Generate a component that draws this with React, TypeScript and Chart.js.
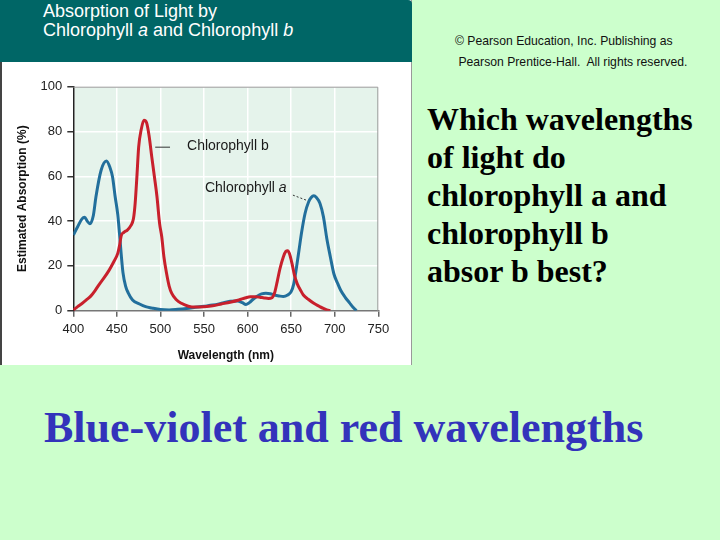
import { useEffect, useRef } from "react"
import { Chart, registerables } from "chart.js"

Chart.register(...registerables)

// Chlorophyll a (blue curve)
const chlAWavelengths = [400, 405, 410, 413, 416, 419, 423, 426, 432, 438, 442, 445, 448, 451, 453, 455, 457, 460, 463, 468, 476, 483, 490, 500, 510, 520, 530, 540, 550, 560, 570, 580, 588, 594, 598, 602, 606, 611, 616, 621, 626, 631, 636, 641, 646, 650, 653, 656, 659, 662, 666, 670, 673, 676, 679, 683, 687, 691, 695, 699, 703, 707, 712, 717, 721, 725]
const chlAValues = [33.8, 37.5, 41, 41.7, 40, 38.8, 42.5, 50.9, 62.8, 66.8, 64, 59.8, 51, 43, 34.5, 25, 17, 11, 8, 4.8, 3, 1.8, 1.2, 0.5, 0.3, 0.6, 1, 1.5, 2, 2.5, 3.3, 4.2, 4.3, 3.6, 2.8, 3.6, 5, 6.5, 7.5, 7.8, 7.6, 7, 6.6, 6.3, 7, 8.5, 12, 19, 27, 35, 43.5, 48.5, 50.5, 51.3, 50.5, 48, 42, 32, 24, 16.5, 12.5, 9, 6, 3.5, 1.5, 0]

// Chlorophyll b (red curve)
const chlBWavelengths = [400, 405, 410, 415, 420, 425, 430, 435, 441, 446, 451, 453, 455, 458, 462, 466, 469, 471, 473, 475, 478, 481, 484, 487, 490, 493, 496, 499, 501.5, 504, 507, 510, 513, 518, 524, 532, 540, 550, 560, 570, 580, 590, 598, 603, 609, 614, 619, 624, 628, 631, 634, 637, 641, 644, 646, 648, 651, 654, 657, 661, 664, 670, 676, 682, 687, 691, 695]
const chlBValues = [0.3, 1.8, 3.2, 4.8, 6.5, 9, 11.9, 14.5, 18, 21.5, 25.6, 29, 33.5, 35, 36, 38, 41, 48, 60, 73, 81, 85, 84, 78, 68.8, 60, 51, 39, 33, 24, 16.7, 11, 7.7, 5, 3.3, 2, 1.6, 1.8, 2.2, 3, 3.8, 4.8, 5.8, 6.2, 6.2, 6, 5.7, 5.5, 5.8, 8, 13, 18.5, 24, 26.5, 26.8, 25.5, 21, 15.5, 12, 9, 7, 5, 3.3, 2, 1, 0.4, 0]

const xTicks = [400, 450, 500, 550, 600, 650, 700, 750]
const yTicks = [0, 20, 40, 60, 80, 100]

const plotDecor = {
  id: "plotDecor",
  beforeDraw(chart: any) {
    const { ctx, chartArea } = chart
    ctx.save()
    ctx.fillStyle = "#e5f3eb"
    ctx.fillRect(chartArea.left, chartArea.top, chartArea.right - chartArea.left, chartArea.bottom - chartArea.top)
    ctx.restore()
  },
  afterDatasetsDraw(chart: any) {
    const { ctx, chartArea, scales } = chart
    const x = scales.x
    const y = scales.y
    ctx.save()
    // top / right frame
    ctx.strokeStyle = "#9a9a9a"
    ctx.lineWidth = 1
    ctx.beginPath()
    ctx.moveTo(chartArea.left, chartArea.top + 0.5)
    ctx.lineTo(chartArea.right - 0.5, chartArea.top + 0.5)
    ctx.lineTo(chartArea.right - 0.5, chartArea.bottom)
    ctx.stroke()

    // labels
    ctx.fillStyle = "#1a1a1a"
    ctx.font = "14px 'Liberation Sans', Arial, sans-serif"
    ctx.textBaseline = "middle"
    ctx.fillText("Chlorophyll b", x.getPixelForValue(530.5), y.getPixelForValue(73.5))
    const ax = x.getPixelForValue(551)
    const ay = y.getPixelForValue(54.8)
    ctx.fillText("Chlorophyll ", ax, ay)
    const w = ctx.measureText("Chlorophyll ").width
    ctx.font = "italic 14px 'Liberation Sans', Arial, sans-serif"
    ctx.fillText("a", ax + w, ay)

    // leader lines
    ctx.strokeStyle = "#333"
    ctx.lineWidth = 1
    ctx.beginPath()
    ctx.moveTo(x.getPixelForValue(494), y.getPixelForValue(73))
    ctx.lineTo(x.getPixelForValue(511), y.getPixelForValue(73))
    ctx.stroke()
    ctx.setLineDash([2, 2])
    ctx.beginPath()
    ctx.moveTo(x.getPixelForValue(652), y.getPixelForValue(51.6))
    ctx.lineTo(x.getPixelForValue(669), y.getPixelForValue(49.1))
    ctx.stroke()
    ctx.restore()
  },
}

function AbsorptionChart() {
  const chartRef = useRef<HTMLCanvasElement>(null)
  const chartInstance = useRef<Chart | null>(null)

  useEffect(() => {
    if (!chartRef.current) return
    const ctx = chartRef.current.getContext("2d")
    if (!ctx) return
    if (chartInstance.current) chartInstance.current.destroy()

    const tickFont = { family: "'Liberation Sans', Arial, sans-serif", size: 13 }
    const titleFont = { family: "'Liberation Sans', Arial, sans-serif", size: 12, weight: "bold" as const }

    chartInstance.current = new Chart(ctx, {
      type: "line",
      data: {
        datasets: [
          {
            label: "Chlorophyll b",
            data: chlBWavelengths.map((w, i) => ({ x: w, y: chlBValues[i] })),
            borderColor: "#c8202c",
            borderWidth: 3,
            pointRadius: 0,
            cubicInterpolationMode: "monotone",
            fill: false,
          },
          {
            label: "Chlorophyll a",
            data: chlAWavelengths.map((w, i) => ({ x: w, y: chlAValues[i] })),
            borderColor: "#226f9c",
            borderWidth: 3,
            pointRadius: 0,
            cubicInterpolationMode: "monotone",
            fill: false,
          },
        ],
      },
      options: {
        animation: false,
        responsive: true,
        maintainAspectRatio: false,
        layout: { padding: { top: 24.7, right: 33.7, left: 0, bottom: 0 } },
        plugins: {
          legend: { display: false },
          tooltip: { enabled: false },
        },
        scales: {
          x: {
            type: "linear",
            min: 400,
            max: 750,
            afterBuildTicks: (scale: any) => {
              scale.ticks = xTicks.map((v) => ({ value: v }))
            },
            afterFit: (scale: any) => {
              scale.height = 54.3
            },
            ticks: { font: tickFont, color: "#222", padding: 5 },
            grid: { color: "#ffffff", lineWidth: 1.5, tickColor: "#666", tickLength: 6 },
            border: { color: "#777", width: 1.5 },
            title: { display: true, text: "Wavelength (nm)", font: titleFont, color: "#111", padding: { top: 0, bottom: 2 } },
          },
          y: {
            min: 0,
            max: 100,
            afterBuildTicks: (scale: any) => {
              scale.ticks = yTicks.map((v) => ({ value: v }))
            },
            afterFit: (scale: any) => {
              scale.width = 73.3
            },
            ticks: { font: tickFont, color: "#222", padding: 5 },
            grid: { color: "#ffffff", lineWidth: 1.5, tickColor: "#333", tickLength: 6 },
            border: { color: "#222", width: 1.5 },
            title: { display: true, text: "Estimated Absorption (%)", font: titleFont, color: "#111", padding: { top: 15, bottom: 0 } },
          },
        },
      },
      plugins: [plotDecor],
    })

    return () => {
      if (chartInstance.current) {
        chartInstance.current.destroy()
        chartInstance.current = null
      }
    }
  }, [])

  return <canvas ref={chartRef} />
}

export default function App() {
  const sans = "'Liberation Sans', Arial, sans-serif"
  const serif = "'Liberation Serif', 'Times New Roman', serif"
  return (
    <div style={{ position: "absolute", left: 0, top: 0, width: 720, height: 540, background: "#ccffcc", overflow: "hidden" }}>
      <div style={{ position: "absolute", left: 0, top: 0, width: 412, height: 365, background: "#ffffff", borderLeft: "2px solid #444", borderRight: "1px solid #999", boxSizing: "border-box" }} />
      <div style={{ position: "absolute", left: 0, top: 0, width: 412, height: 62, background: "#006666", borderTopRightRadius: 4 }}>
        <div style={{ position: "absolute", left: 43, top: 2, color: "#fff", fontFamily: sans, fontSize: 18, lineHeight: "19px" }}>
          Absorption of Light by
          <br />
          Chlorophyll <i>a</i> and Chlorophyll <i>b</i>
        </div>
      </div>
      <div style={{ position: "absolute", left: 0, top: 62, width: 412, height: 303 }}>
        <AbsorptionChart />
      </div>
      <div style={{ position: "absolute", left: 455, top: 31, fontFamily: sans, fontSize: 12.2, color: "#111", lineHeight: "21px", whiteSpace: "pre" }}>
        {"© Pearson Education, Inc. Publishing as\n Pearson Prentice-Hall.  All rights reserved."}
      </div>
      <div style={{ position: "absolute", left: 427, top: 100, fontFamily: serif, fontWeight: "bold", fontSize: 32, lineHeight: "38px", color: "#000", whiteSpace: "nowrap" }}>
        Which wavelengths
        <br />
        of light do
        <br />
        chlorophyll a and
        <br />
        chlorophyll b
        <br />
        absor b best?
      </div>
      <div style={{ position: "absolute", left: 44, top: 403, fontFamily: serif, fontWeight: "bold", fontSize: 44, lineHeight: "50px", color: "#3333bb", whiteSpace: "nowrap" }}>
        Blue-violet and red wavelengths
      </div>
    </div>
  )
}
